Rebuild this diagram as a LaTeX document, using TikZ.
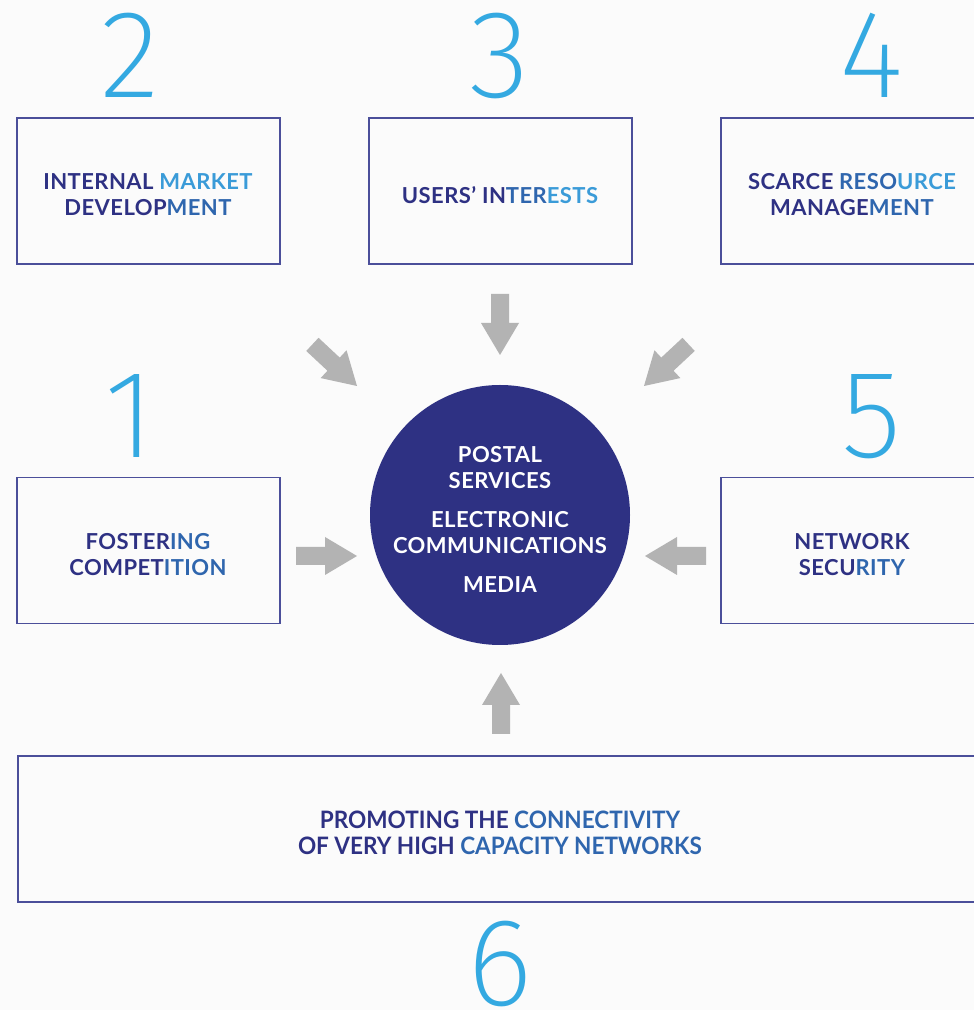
\documentclass[tikz,border=0pt]{standalone}
\usepackage{fontspec}
\setmainfont{Lato}
\IfFontExistsTF{Fira Sans ExtraLight}{\newfontfamily\numfont{Fira Sans ExtraLight}}{%
  \IfFontExistsTF{FiraSans-ExtraLight.otf}{\newfontfamily\numfont{FiraSans-ExtraLight.otf}}{\newfontfamily\numfont{Fira Sans}}}
\newfontfamily\boxfont{Lato}[LetterSpace=2]
\newfontfamily\condfont{Lato}[FakeStretch=0.94]
\definecolor{navy}{HTML}{2E3183}
\definecolor{midblue}{HTML}{2F66AE}
\definecolor{lblue}{HTML}{3A9BD8}
\definecolor{digitblue}{HTML}{34A9E1}
\definecolor{boxline}{HTML}{4B4F9A}
\definecolor{arrowgray}{HTML}{B3B3B3}
\definecolor{bg}{HTML}{FBFBFB}
\newcommand\ca[1]{\textcolor{navy}{#1}}
\newcommand\cb[1]{\textcolor{midblue}{#1}}
\newcommand\cc[1]{\textcolor{lblue}{#1}}
\newcommand\blockarr[3]{\fill[garrow, shift={(#1,#2)}, rotate=#3] (0,0) -- (-32,19) -- (-32,9) -- (-61,9) -- (-61,-9) -- (-32,-9) -- (-32,-19) -- cycle;}
\begin{document}
\begin{tikzpicture}[x=1pt,y=1pt,
  box/.style={draw=boxline, line width=1.4pt, fill=bg, minimum width=263pt, minimum height=146pt, inner sep=0pt},
  boxtext/.style={align=center, font=\boxfont\fontsize{22}{26}\selectfont\bfseries},
  digit/.style={text=digitblue, font=\numfont\fontsize{125}{125}\selectfont, inner sep=0pt, anchor=base},
  garrow/.style={fill=arrowgray}]
\useasboundingbox (0,0) rectangle (974,1010);
\fill[bg] (0,0) rectangle (974,1010);
% digits
\node[digit] (d2) at (130,912) {2};
\node[digit] (d3) at (500,912) {3};
\node[digit] (d4) at (872,912) {4};
\node[digit] (d1) at (130,552) {1};
\node[digit] (d5) at (872,552) {5};
\node[digit] (d6) at (500,5) {6};
% boxes
\node[box] (b2) at (148.5,819) {};
\node[box] (b3) at (500.5,819) {};
\node[box, minimum width=280pt] (b4) at (861,819) {};
\node[box] (b1) at (148.5,459.5) {};
\node[box, minimum width=280pt] (b5) at (861,459.5) {};
\node[box, minimum width=980pt] (b6) at (508,181) {};
% box texts
\node[boxtext] (t2) at (148,815) {\ca{INTERNAL} \cc{MARKET}\\\ca{DEVELOP}\cb{MENT}};
\node[boxtext] (t3) at (500,815) {\ca{USERS’ IN}\cb{TER}\cc{ESTS}};
\node[boxtext] (t4) at (852,815) {\ca{SCARCE} \cb{RESO}\cc{URCE}\\\ca{MANAGE}\cb{MENT}};
\node[boxtext] (t1) at (148,455) {\ca{FOSTER}\cb{ING}\\\ca{COMPET}\cb{ITION}};
\node[boxtext] (t5) at (852,455) {\ca{NETWORK}\\\ca{SECU}\cb{RITY}};
\node[boxtext, font=\condfont\fontsize{24}{26}\selectfont\bfseries] (t6) at (500,177)
  {\ca{PROMOTING THE} \cb{CONNECTIVITY}\\\ca{OF VERY HIGH} \cb{CAPACITY NETWORKS}};
% centre circle
\node[circle, fill=navy, minimum size=260pt, inner sep=0pt] (c) at (500,495) {};
\node[align=center, text=white, font=\boxfont\fontsize{22}{26}\selectfont\bfseries] (ct) at (500,491)
  {POSTAL\\SERVICES\\[13pt]ELECTRONIC\\COMMUNICATIONS\\[13pt]MEDIA};
% arrows
\blockarr{500}{655}{-90}
\blockarr{357}{624}{-43}
\blockarr{644}{624}{-137}
\blockarr{357}{454}{0}
\blockarr{645}{454}{180}
\blockarr{501}{337}{90}
\end{tikzpicture}
\end{document}
